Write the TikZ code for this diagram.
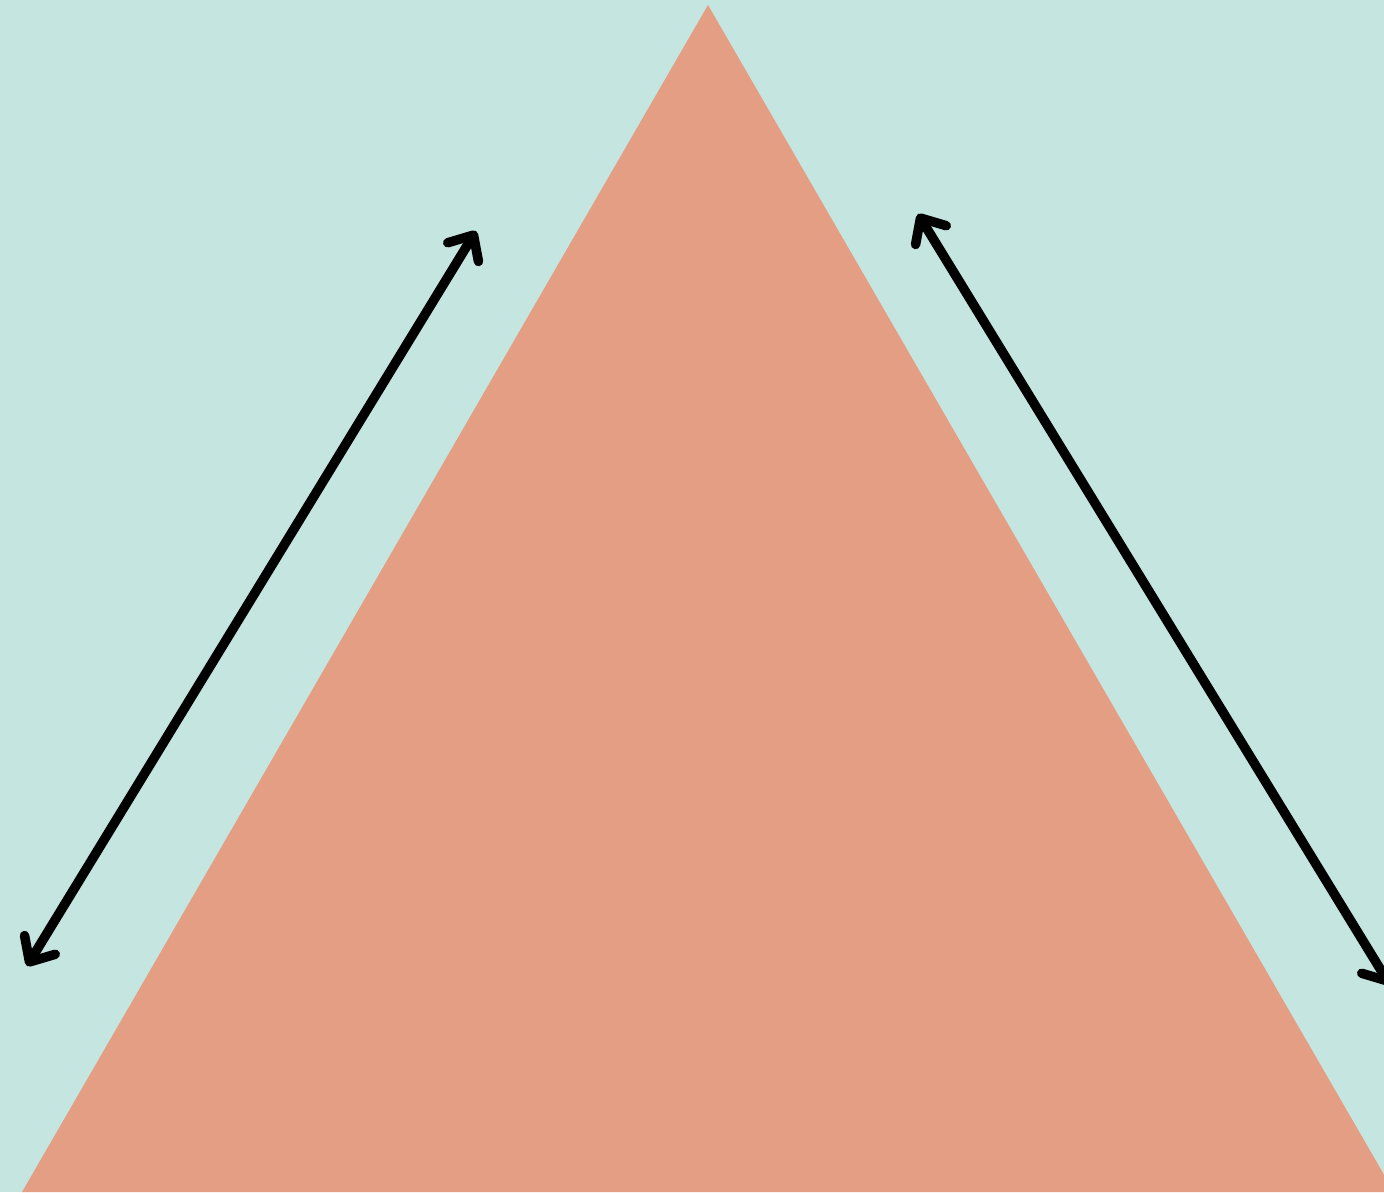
\documentclass[tikz,border=0pt]{standalone}
\usetikzlibrary{arrows.meta}
\definecolor{bgteal}{HTML}{C5E5E0}
\definecolor{salmon}{HTML}{E49E84}
\tikzset{
  dblarrow/.style={line width=9.5pt, line cap=round, line join=round,
    {Straight Barb[length=20pt,width=36pt,line cap=round,line join=round]}-{Straight Barb[length=20pt,width=36pt,line cap=round,line join=round]}}
}
\begin{document}
\begin{tikzpicture}[x=1pt,y=-1pt]
\fill[bgteal] (0,0) rectangle (1384,1192);
\useasboundingbox (0,0) rectangle (1384,1192);
\begin{scope}
\clip (0,0) rectangle (1384,1192);
\coordinate (apex) at (708,5);
\coordinate (bl) at (22,1192);
\coordinate (br) at (1394,1192);
\fill[salmon] (apex) -- (br) -- (bl) -- cycle;
\coordinate (la) at (27,966);
\coordinate (lb) at (476,231);
\coordinate (ra) at (918,214);
\coordinate (rb) at (1390,985);
\draw[dblarrow] (la) -- (lb);
\draw[dblarrow] (ra) -- (rb);
\end{scope}
\end{tikzpicture}
\end{document}
